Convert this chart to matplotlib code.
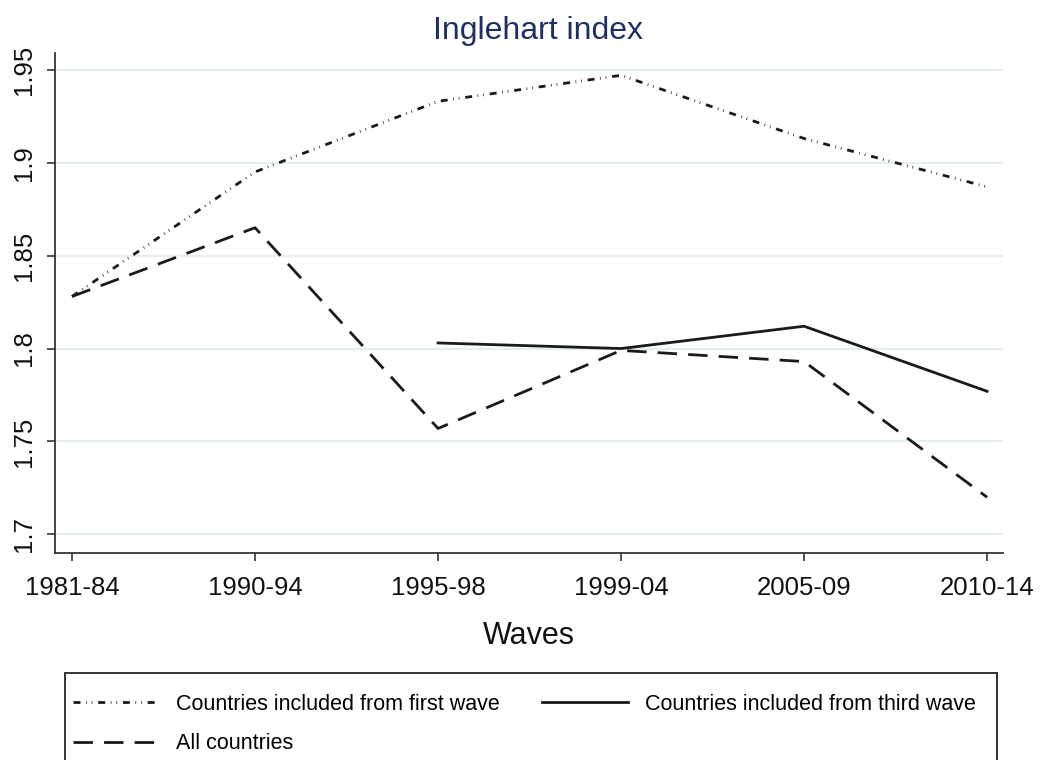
import matplotlib
matplotlib.use("Agg")
import matplotlib.pyplot as plt
from matplotlib.patches import Rectangle
import numpy as np

plt.rcParams["font.family"] = ["Liberation Sans", "DejaVu Sans"]

waves = ["1981-84", "1990-94", "1995-98", "1999-04", "2005-09", "2010-14"]
first_wave = [1.828, 1.895, 1.933, 1.947, 1.913, 1.887]
all_countries = [1.828, 1.865, 1.757, 1.799, 1.793, 1.720]
third_wave = [np.nan, np.nan, 1.803, 1.800, 1.812, 1.777]
yticks = [1.7, 1.75, 1.8, 1.85, 1.9, 1.95]
ytick_labels = ["1.7", "1.75", "1.8", "1.85", "1.9", "1.95"]

x = np.arange(len(waves))

fig = plt.figure(figsize=(10.43, 7.6), dpi=100)
ax = fig.add_axes([55 / 1043, 1 - 553 / 760, 948 / 1043, 500 / 760])

l_first, = ax.plot(x, first_wave, color="#1a1a1a", lw=2.0,
                   dashes=(2.5, 2.0, 0.25, 1.8, 0.25, 2.1),
                   label="Countries included from first wave")
l_third, = ax.plot(x, third_wave, color="#1a1a1a", lw=2.0, ls="-",
                   label="Countries included from third wave")
l_all, = ax.plot(x, all_countries, color="#1a1a1a", lw=2.0, dashes=(7, 4),
                 label="All countries")

ax.set_xlim(-0.093, 5.087)
ax.set_ylim(1.690, 1.959)
ax.set_yticks(yticks)
ax.set_yticklabels(ytick_labels, rotation=90, va="center")
ax.set_xticks(x)
ax.set_xticklabels(waves)
ax.tick_params(axis="both", labelsize=18.5, length=6, width=1.2,
               color="#333333", labelcolor="#111111")
ax.tick_params(axis="y", pad=8)
ax.tick_params(axis="x", pad=10.5)
ax.grid(axis="y", color="#e4eef1", lw=1.6)
ax.set_axisbelow(True)
for s in ["top", "right"]:
    ax.spines[s].set_visible(False)
for s in ["left", "bottom"]:
    ax.spines[s].set_color("#333333")
    ax.spines[s].set_linewidth(1.3)

ax.set_xlabel("Waves", fontsize=22, labelpad=15, color="#111111")
fig.text(538 / 1043, 1 - 31 / 760, "Inglehart index", fontsize=23,
         color="#1e2f63", ha="center", va="center")

# legend box (runs off the bottom edge as in the original)
fig.patches.append(Rectangle((65 / 1043, -0.05), 932 / 1043, 0.05 + 87 / 760,
                             transform=fig.transFigure, fill=False,
                             ec="#333333", lw=1.4, clip_on=False))
fig.legend([l_first, l_all, l_third],
           [l_first.get_label(), l_all.get_label(), l_third.get_label()],
           ncol=2, frameon=False, loc="upper left",
           bbox_to_anchor=(73 / 1043, 1 - 694 / 760),
           borderpad=0, borderaxespad=0,
           prop={"family": ["Liberation Sans", "DejaVu Sans"], "size": 15.5},
           handlelength=4.0, handletextpad=0.8, columnspacing=1.95,
           labelspacing=0.85)

fig.savefig("out.png", dpi=100)
